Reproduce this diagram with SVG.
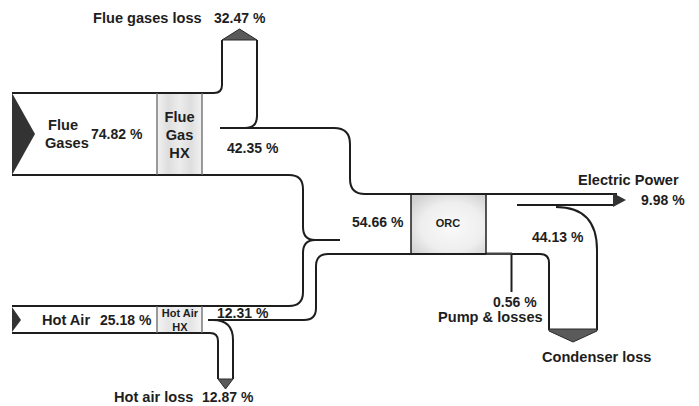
<svg xmlns="http://www.w3.org/2000/svg" width="699" height="406" viewBox="0 0 699 406">
<style>
  text { font-family: "Liberation Sans", Arial, sans-serif; font-weight: bold; fill: #1e1e1e; }
  .lbl { font-size: 14.6px; }
  .pct { font-size: 14px; }
  .sm { font-size: 11px; }
  .line { fill: none; stroke: #1e1e1e; stroke-width: 2; stroke-linejoin: round; }
  .hxedge { stroke: #666; stroke-width: 1.3; }
  .src { fill: #333; }
  .head { fill: #5a5a5a; stroke: #2a2a2a; stroke-width: 1; }
</style>
<defs>
  <linearGradient id="hxGrad" x1="0" y1="0" x2="1" y2="0">
    <stop offset="0" stop-color="#f2f2f2"/>
    <stop offset="0.25" stop-color="#dedede"/>
    <stop offset="0.5" stop-color="#ececec"/>
    <stop offset="0.75" stop-color="#dedede"/>
    <stop offset="1" stop-color="#f2f2f2"/>
  </linearGradient>
  <radialGradient id="orcGrad" cx="0.55" cy="0.55" r="0.7">
    <stop offset="0" stop-color="#fafafa"/>
    <stop offset="0.6" stop-color="#eeeeee"/>
    <stop offset="1" stop-color="#cfcfcf"/>
  </radialGradient>
</defs>
<rect width="699" height="406" fill="#ffffff"/>

<g id="connectors">
  <path class="line" d="M12,93 H214 Q222,93 222,85 V40"/>
  <path class="line" d="M257,40 V116 Q257,128 245,128"/>
  <path class="line" d="M220,128 H334 Q350,128 350,144 V179 Q350,194 365,194 H617"/>
  <path class="line" d="M12,175 H289 Q303,175 303,189 V227 Q303,240 315,240 Q303,240 303,253 V292 Q303,306 289,306 H12"/>
  <path class="line" d="M315,240 H340"/>
  <path class="line" d="M208,320 H304 Q316,320 316,308 V266 Q316,254 328,254 H540 Q549,254 549,263 V330"/>
  <path class="line" d="M12,333 H210 Q218,333 218,341 V379"/>
  <path class="line" d="M213,320 Q233,320 233,340 V379"/>
  <path class="line" d="M517,205 H614"/>
  <path class="line" d="M556,207 Q597,207 597,250 V330"/>
  <rect x="486" y="252.5" width="26" height="2.5" fill="#444"/>
  <path class="line" d="M511.5,254 V292"/>
</g>

<g id="flue-gases">
  <polygon class="src" points="12,93 35,134 12,175"/>
  <text class="lbl" x="48" y="130">Flue</text>
  <text class="lbl" x="45" y="148">Gases</text>
  <text class="pct" x="91" y="139">74.82 %</text>
</g>

<g id="flue-gas-hx">
  <rect x="157" y="94" width="45" height="80" fill="url(#hxGrad)"/>
  <line class="hxedge" x1="157" y1="93" x2="157" y2="175"/>
  <line class="hxedge" x1="202" y1="93" x2="202" y2="175"/>
  <text class="lbl" x="179.5" y="122" text-anchor="middle">Flue</text>
  <text class="lbl" x="179.5" y="140" text-anchor="middle">Gas</text>
  <text class="lbl" x="179.5" y="158" text-anchor="middle">HX</text>
</g>

<g id="flue-gases-loss">
  <polygon class="head" points="222,40 239.5,29 257,40"/>
  <text class="lbl" x="93" y="23">Flue gases loss</text>
  <text class="pct" x="214" y="23">32.47 %</text>
</g>

<g id="flow-42">
  <text class="pct" x="227" y="153">42.35 %</text>
</g>

<g id="flow-54">
  <text class="pct" x="352" y="227">54.66 %</text>
</g>

<g id="orc">
  <rect x="411" y="195" width="75" height="58" fill="url(#orcGrad)"/>
  <line x1="411" y1="194" x2="411" y2="254" stroke="#1e1e1e" stroke-width="1.5"/>
  <line x1="486" y1="194" x2="486" y2="254" stroke="#1e1e1e" stroke-width="1.5"/>
  <text class="sm" x="448" y="227" text-anchor="middle">ORC</text>
</g>

<g id="electric-power">
  <polygon fill="#333" points="613,193 626,200 613,207"/>
  <text class="lbl" x="578" y="185">Electric Power</text>
  <text class="pct" x="641" y="205">9.98 %</text>
</g>

<g id="condenser-loss">
  <polygon class="head" points="549,329 597,329 597,331 573,342 549,331"/>
  <text class="pct" x="532" y="242">44.13 %</text>
  <text class="lbl" x="542" y="362">Condenser loss</text>
</g>

<g id="pump-losses">
  <text class="pct" x="493" y="307">0.56 %</text>
  <text class="lbl" x="438" y="322">Pump &amp; losses</text>
</g>

<g id="hot-air">
  <polygon class="src" points="12,307 21,320 12,332"/>
  <text class="lbl" x="42" y="325">Hot Air</text>
  <text class="pct" x="100" y="325">25.18 %</text>
</g>

<g id="hot-air-hx">
  <rect x="157" y="307" width="45" height="25" fill="url(#hxGrad)" opacity="0.8"/>
  <line class="hxedge" x1="157" y1="306" x2="157" y2="333"/>
  <line class="hxedge" x1="202" y1="306" x2="202" y2="333"/>
  <text class="sm" x="180" y="317" text-anchor="middle">Hot Air</text>
  <text class="sm" x="180" y="331" text-anchor="middle">HX</text>
</g>

<g id="flow-12">
  <text class="pct" x="217" y="318">12.31 %</text>
</g>

<g id="hot-air-loss">
  <polygon class="head" points="218,379 233,379 225.5,389"/>
  <text class="lbl" x="114" y="402">Hot air loss</text>
  <text class="pct" x="202" y="402">12.87 %</text>
</g>
</svg>
